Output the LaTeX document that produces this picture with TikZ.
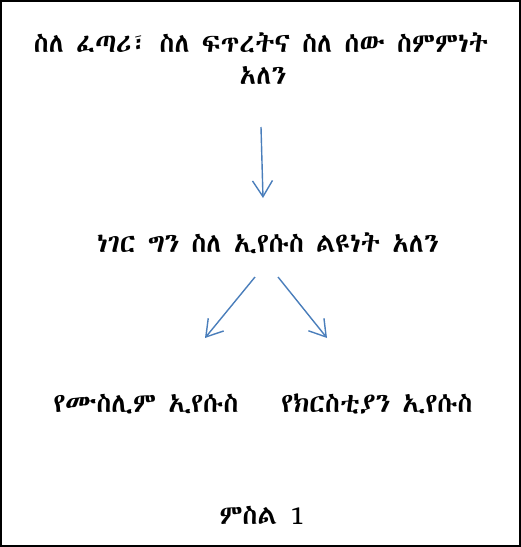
\documentclass[tikz,border=0pt]{standalone}
\usepackage{fontspec}
\IfFontExistsTF{Abyssinica SIL}{\newfontfamily\ethfont{Abyssinica SIL}}{%
  \IfFontExistsTF{FreeSerif}{\newfontfamily\ethfont{FreeSerif}}{%
    \IfFontExistsTF{FreeSans}{\newfontfamily\ethfont{FreeSans}}{%
      \newfontfamily\ethfont{DejaVu Sans}}}}
\usetikzlibrary{arrows.meta}
\definecolor{arrblue}{HTML}{4A7EBB}
\tikzset{
  txt/.style={font=\ethfont\fontsize{27}{32}\selectfont, inner sep=0pt, align=center},
  arr/.style={draw=arrblue, line width=1.4pt, -{Straight Barb[length=16pt,width=20pt,line width=1.4pt]}}
}
\begin{document}
\begin{tikzpicture}[x=1pt,y=-1pt]
\useasboundingbox (0,0) rectangle (521,547);
\draw[line width=1.3pt] (1,1) rectangle (520,546);
\node[txt] (t1) at (261,43) {ስለ ፈጣሪ፣ ስለ ፍጥረትና ስለ ሰው ስምምነት};
\node[txt] (t2) at (263,75) {አለን};
\node[txt] (t3) at (268,243) {ነገር ግን ስለ ኢየሱስ ልዩነት አለን};
\node[txt] (t4) at (146,404) {የሙስሊም ኢየሱስ};
\node[txt] (t5) at (377,404) {የክርስቲያን ኢየሱስ};
\node[txt] (t6) at (262,515) {ምስል 1};
\coordinate (a1s) at (261,127);
\coordinate (a1e) at (263,198);
\coordinate (a2s) at (255,277);
\coordinate (a2e) at (205,338);
\coordinate (a3s) at (278,277);
\coordinate (a3e) at (327,338);
\draw[arr] (a1s) -- (a1e);
\draw[arr] (a2s) -- (a2e);
\draw[arr] (a3s) -- (a3e);
\end{tikzpicture}
\end{document}
